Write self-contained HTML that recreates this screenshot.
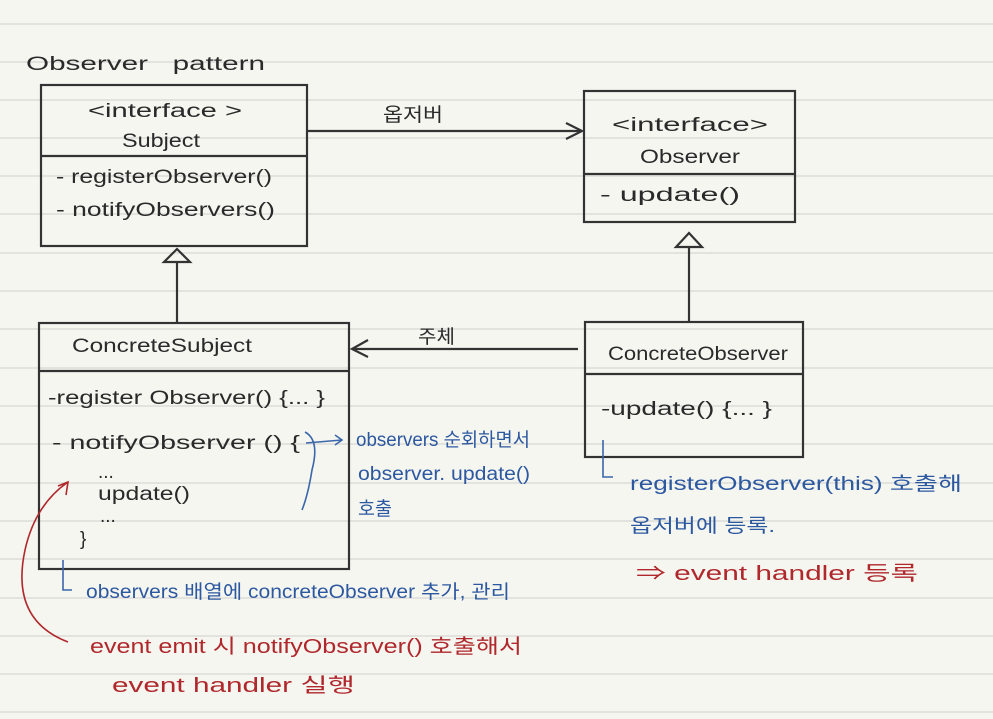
<!DOCTYPE html>
<html><head><meta charset="utf-8"><style>
html,body{margin:0;padding:0;background:#f6f6f1;}
svg{display:block}
text{font-family:"Liberation Sans","Noto Sans CJK KR",sans-serif;}
.k{fill:#2a2a2a;font-size:19px}
.b{fill:#2c58a0;font-size:19px}
.r{fill:#b0282c;font-size:20px}
</style></head><body>
<svg width="993" height="719" viewBox="0 0 993 719" xmlns="http://www.w3.org/2000/svg">
<rect width="993" height="719" fill="#f6f6f1"/>
<g stroke="#dcdcd8" stroke-width="1.5">
<line x1="0" y1="24" x2="993" y2="24"/><line x1="0" y1="62" x2="993" y2="62"/><line x1="0" y1="100" x2="993" y2="100"/><line x1="0" y1="138" x2="993" y2="138"/><line x1="0" y1="176" x2="993" y2="176"/><line x1="0" y1="214" x2="993" y2="214"/><line x1="0" y1="253" x2="993" y2="253"/><line x1="0" y1="291" x2="993" y2="291"/><line x1="0" y1="329" x2="993" y2="329"/><line x1="0" y1="368" x2="993" y2="368"/><line x1="0" y1="406" x2="993" y2="406"/><line x1="0" y1="444" x2="993" y2="444"/><line x1="0" y1="483" x2="993" y2="483"/><line x1="0" y1="521" x2="993" y2="521"/><line x1="0" y1="559" x2="993" y2="559"/><line x1="0" y1="598" x2="993" y2="598"/><line x1="0" y1="636" x2="993" y2="636"/><line x1="0" y1="674" x2="993" y2="674"/><line x1="0" y1="712" x2="993" y2="712"/>
</g>
<g fill="none" stroke="#333" stroke-width="2.2">
<rect x="41" y="85" width="266" height="161"/><line x1="41" y1="156" x2="307" y2="156"/>
<rect x="584" y="91" width="211" height="131"/><line x1="584" y1="174" x2="795" y2="174"/>
<rect x="39" y="323" width="310" height="246"/><line x1="39" y1="371" x2="349" y2="371"/>
<rect x="585" y="322" width="218" height="135"/><line x1="585" y1="374" x2="803" y2="374"/>
<line x1="307" y1="131" x2="582" y2="131"/><polyline points="566,123 582,131 566,139"/>
<line x1="578" y1="349" x2="352" y2="349"/><polyline points="368,340 352,349 368,357"/>
<line x1="177" y1="262" x2="177" y2="323"/><polygon points="164,262 190,262 177,249"/>
<line x1="689" y1="247" x2="689" y2="322"/><polygon points="676,247 702,247 689,233"/>
</g>
<text x="26" y="70" class="k" font-size="22" textLength="239" lengthAdjust="spacingAndGlyphs">Observer&#160;&#160;&#160;pattern</text>
<text x="88" y="117" class="k" textLength="154" lengthAdjust="spacingAndGlyphs">&lt;interface &gt;</text>
<text x="122" y="147" class="k" textLength="78" lengthAdjust="spacingAndGlyphs">Subject</text>
<text x="56" y="183" class="k" font-size="17" textLength="216" lengthAdjust="spacingAndGlyphs">- registerObserver()</text>
<text x="56" y="216" class="k" font-size="17" textLength="219" lengthAdjust="spacingAndGlyphs">- notifyObservers()</text>
<text x="383" y="121" class="k" font-size="17" textLength="60" lengthAdjust="spacingAndGlyphs">옵저버</text>
<text x="612" y="131" class="k" font-size="18" textLength="156" lengthAdjust="spacingAndGlyphs">&lt;interface&gt;</text>
<text x="640" y="163" class="k" textLength="100" lengthAdjust="spacingAndGlyphs">Observer</text>
<text x="600" y="201" class="k" textLength="140" lengthAdjust="spacingAndGlyphs">- update()</text>
<text x="72" y="352" class="k" textLength="180" lengthAdjust="spacingAndGlyphs">ConcreteSubject</text>
<text x="48" y="404" class="k" font-size="17" textLength="277" lengthAdjust="spacingAndGlyphs">-register Observer() {... }</text>
<text x="52" y="449" class="k" font-size="17" textLength="248" lengthAdjust="spacingAndGlyphs">- notifyObserver () {</text>
<text x="98" y="478" class="k">...</text>
<text x="98" y="500" class="k" font-size="18" textLength="92" lengthAdjust="spacingAndGlyphs">update()</text>
<text x="100" y="522" class="k">...</text>
<text x="80" y="545" class="k">}</text>
<text x="418" y="343" class="k" font-size="17" textLength="37" lengthAdjust="spacingAndGlyphs">주체</text>
<text x="608" y="360" class="k" font-size="18" textLength="180" lengthAdjust="spacingAndGlyphs">ConcreteObserver</text>
<text x="601" y="415" class="k" font-size="16" textLength="171" lengthAdjust="spacingAndGlyphs">-update() {... }</text>
<g fill="none" stroke="#3a66aa" stroke-width="1.6">
<path d="M305,432 Q320,440 312,470 Q308,495 302,510"/><line x1="306" y1="443" x2="342" y2="440"/><polyline points="335,435 342,440 335,445"/>
<polyline points="63,560 63,590 72,590"/>
<polyline points="603,440 603,477 613,477"/>
</g>
<path d="M68,642 Q10,620 25,550 Q35,505 68,482" fill="none" stroke="#b0282c" stroke-width="1.6"/>
<polyline points="58,486 68,482 66,495" fill="none" stroke="#b0282c" stroke-width="1.6"/>
<text x="356" y="446" class="b" font-size="18" textLength="174" lengthAdjust="spacingAndGlyphs">observers 순회하면서</text>
<text x="358" y="480" class="b" font-size="18" textLength="172" lengthAdjust="spacingAndGlyphs">observer. update()</text>
<text x="358" y="515" class="b" font-size="18" textLength="34" lengthAdjust="spacingAndGlyphs">호출</text>
<text x="86" y="598" class="b" font-size="18" textLength="424" lengthAdjust="spacingAndGlyphs">observers 배열에 concreteObserver 추가, 관리</text>
<text x="90" y="653" class="r" textLength="432" lengthAdjust="spacingAndGlyphs">event emit 시 notifyObserver() 호출해서</text>
<text x="112" y="692" class="r" textLength="243" lengthAdjust="spacingAndGlyphs">event handler 실행</text>
<text x="630" y="490" class="b" font-size="19" textLength="332" lengthAdjust="spacingAndGlyphs">registerObserver(this) 호출해</text>
<text x="630" y="532" class="b" font-size="18" textLength="145" lengthAdjust="spacingAndGlyphs">옵저버에 등록.</text>
<text x="636" y="580" class="r" textLength="282" lengthAdjust="spacingAndGlyphs">⇒ event handler 등록</text>
</svg>
</body></html>
